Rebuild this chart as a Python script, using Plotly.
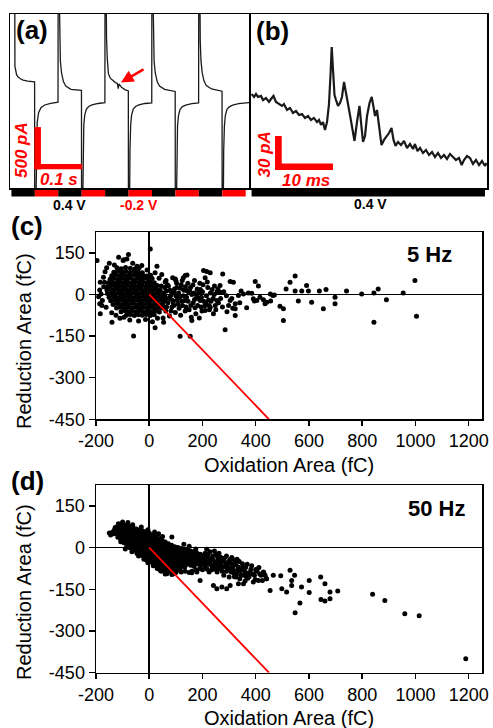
import plotly.graph_objects as go

W, H = 493, 728
FONT = "Liberation Sans, Arial, sans-serif"
RED = "#ff0000"

# ---------------- data ----------------
# (a) current trace, time in ms, current in pA
a_t = [-3, 6.5, 7.5, 9, 11, 14, 19, 25, 35, 49.5,
       50, 51.5, 53, 55, 58, 63, 71, 84, 99.5,
       100, 101.5, 103, 104.5, 107, 111, 116, 127, 149.5,
       150, 151.5, 153, 154.5, 156.5, 160, 165, 172, 185, 199.5,
       200, 201.5, 203, 204.5, 207, 211, 216, 222, 226, 228, 229.5, 235, 242, 249.5,
       250, 251.5, 253, 254.5, 256.5, 260, 265, 272, 285, 299.5,
       300, 301.5, 303, 304.5, 307, 311, 316, 327, 349.5,
       350, 351.5, 353, 354.5, 356.5, 360, 365, 372, 385, 399.5,
       400, 401.5, 403, 404.5, 407, 411, 416, 427, 449.5,
       450, 451.5, 453, 454.5, 456.5, 460, 465, 472, 485, 507]
a_i = [3000, 3000, 420, 350, 318, 293, 268, 253, 240, 231,
       -3000, -1500, -560, -260, -140, -80, -48, -28, -15,
       3000, 1500, 700, 480, 338, 235, 181, 141, 128,
       -3000, -1500, -590, -290, -169, -97, -66, -48, -30, -20,
       3000, 1500, 750, 520, 330, 275, 245, 222, 212, 150, 205, 165, 138, 122,
       -3000, -1500, -590, -290, -169, -97, -66, -48, -30, -22,
       3000, 1500, 700, 480, 338, 235, 181, 141, 115,
       -3000, -1500, -600, -300, -175, -100, -68, -50, -32, -22,
       3000, 1500, 720, 490, 345, 240, 185, 145, 118,
       -3000, -1500, -600, -300, -175, -100, -70, -50, -32, -20]
# (a) applied potential steps
a_step_t = [0, 50, 100, 150, 200, 250, 300, 350, 400, 450, 500]
a_step_v = [0.4, -0.2, 0.4, -0.2, 0.4, -0.2, 0.4, -0.2, 0.4, -0.2]

# (b) zoomed trace, time in ms, current in pA
b_t = [0.09, 0.52, 0.86, 1.21, 1.72, 2.07, 2.59, 3.10, 3.45, 3.88,
       4.31, 4.83, 5.35, 5.69, 6.21, 6.73, 7.24, 7.76, 8.28, 8.80,
       9.31, 9.83, 10.35, 10.86, 11.38, 11.73, 12.07, 12.42, 12.76, 13.11,
       13.45, 13.71, 13.92, 14.14, 14.40, 14.66, 15.00, 15.35, 15.69, 16.04,
       16.38, 16.73, 17.07, 17.42, 17.85, 18.28, 18.71, 18.97, 19.32, 19.66,
       20.01, 20.44, 20.82, 21.13, 21.39, 21.73, 22.08, 22.51, 22.94, 23.37,
       23.80, 24.23, 24.58, 24.92, 25.35, 25.87, 26.39, 26.91, 27.42, 27.94,
       28.28, 28.71, 29.15, 29.66, 30.18, 30.70, 31.22, 31.73, 32.25, 32.77,
       33.28, 33.80, 34.32, 34.84, 35.35, 35.87, 36.33, 36.73, 37.25, 37.77,
       38.28, 38.80, 39.32, 39.84, 40.35, 40.61]
b_i = [82.9, 80.3, 82.9, 80.3, 81.2, 77.6, 79.4, 75.9, 78.5, 81.2,
       75.9, 74.1, 72.4, 74.1, 68.8, 70.6, 66.2, 67.9, 64.4, 65.3,
       61.8, 63.5, 60.0, 61.8, 58.2, 60.0, 55.6, 58.2, 51.2, 58.2,
       74.1, 99.7, 124.4, 104.8, 82.1, 77.6, 72.4, 75.0, 80.3, 93.5,
       82.1, 74.1, 64.4, 52.9, 41.5, 58.2, 72.4, 58.2, 40.6, 45.9,
       63.5, 75.0, 80.3, 71.5, 63.5, 68.8, 55.6, 37.9, 42.4, 45.0,
       48.5, 52.9, 42.4, 37.1, 40.6, 37.9, 41.5, 35.3, 38.8, 34.4,
       38.8, 32.6, 35.3, 30.9, 33.5, 29.1, 31.8, 27.4, 30.9, 26.5,
       29.1, 25.6, 30.0, 27.4, 24.7, 26.5, 20.3, 24.7, 28.2, 26.5,
       21.2, 24.7, 20.3, 23.8, 19.4, 22.1]
b_step_t = [0.1, 40.35]
b_step_v = [0.4]

# (c) 5 Hz: (oxidation area fC, reduction area fC)
c_points = [
    (-121, 96), (-105, 93), (-89, 97), (-71, 94), (-54, 92), (-38, 96),
    (-133, 80), (-118, 84), (-102, 81), (-87, 83), (-72, 79), (-56, 84), (-41, 81), (-26, 78),
    (-141, 67), (-127, 71), (-112, 68), (-98, 70), (-83, 66), (-69, 69), (-54, 71), (-39, 67), (-24, 70), (-9, 66), (5, 69),
    (-147, 55), (-132, 58), (-118, 54), (-104, 57), (-89, 55), (-75, 58), (-61, 54), (-46, 57), (-32, 55), (-17, 58), (-3, 54), (11, 57),
    (-153, 42), (-139, 45), (-125, 41), (-110, 44), (-96, 42), (-82, 45), (-67, 41), (-53, 44), (-39, 42), (-24, 45), (-10, 41), (4, 44), (19, 42),
    (-156, 29), (-141, 32), (-127, 28), (-113, 31), (-99, 29), (-84, 32), (-70, 28), (-56, 31), (-41, 29), (-27, 32), (-13, 28), (2, 31), (16, 29), (30, 32),
    (-159, 16), (-145, 19), (-131, 15), (-116, 18), (-102, 16), (-88, 19), (-73, 15), (-59, 18), (-45, 16), (-30, 19), (-16, 15), (-2, 18), (13, 16), (27, 19), (41, 15),
    (-157, 3), (-142, 6), (-128, 2), (-114, 5), (-99, 3), (-85, 6), (-71, 2), (-56, 5), (-42, 3), (-28, 6), (-13, 2), (1, 5), (15, 3), (30, 6), (44, 2),
    (-151, -10), (-137, -7), (-123, -11), (-108, -8), (-94, -10), (-80, -7), (-65, -11), (-51, -8), (-37, -10), (-22, -7), (-8, -11), (6, -8), (21, -10), (35, -7), (49, -11),
    (-145, -23), (-130, -20), (-116, -24), (-102, -21), (-87, -23), (-73, -20), (-59, -24), (-44, -21), (-30, -23), (-16, -20), (-1, -24), (13, -21), (27, -23), (42, -20), (56, -24),
    (-136, -36), (-121, -33), (-107, -37), (-93, -34), (-78, -36), (-64, -33), (-50, -37), (-35, -34), (-21, -36), (-7, -33), (8, -37), (22, -34), (36, -36), (51, -33),
    (-123, -49), (-109, -46), (-94, -50), (-80, -47), (-66, -49), (-51, -46), (-37, -50), (-23, -47), (-8, -49), (6, -46), (20, -50), (35, -47), (49, -49),
    (-106, -62), (-91, -59), (-77, -63), (-63, -60), (-48, -62), (-34, -59), (-20, -63), (-5, -60), (9, -62), (23, -59), (38, -63),
    (-86, -75), (-71, -72), (-56, -76), (-41, -73), (-26, -75), (-11, -72), (4, -76), (19, -73),
    (-172, 62), (-176, -22), (-166, 82), (-150, 112), (-98, 122), (-62, 112), (-28, 104), (-8, 88), (22, 78), (37, 58),
    (-171, 28), (-162, -46), (-141, -66), (-110, -86), (-73, -92), (-40, -96), (-14, -90), (12, -98), (31, -86), (47, 72),
    (-181, 2), (-186, 16), (-190, -8), (-131, 106), (-84, 128), (-46, 102), (-168, 44), (-178, -40), (-160, 96), (-125, -75),
    (-95, -82), (60, -8), (63, 50),
    (60, 45), (72, 30), (65, 12), (80, -5), (70, -30), (85, -45), (62, -60), (95, 20), (100, 50), (105, -20),
    (110, 5), (98, -65), (120, 35), (125, -40), (130, 15), (118, -75), (140, -10), (145, 40), (150, -55), (155, 25),
    (160, 0), (165, -30), (170, 50), (175, -70), (180, 20), (185, -15), (190, 40), (195, -45), (200, 10), (205, -25),
    (210, 60), (215, -5), (220, 25), (225, -40), (230, 5), (240, -15), (245, 30), (250, -55), (255, 10), (260, -30),
    (112, -50), (135, -60), (158, -82), (88, 60), (76, -78), (128, 60), (172, -48), (188, -85), (142, 70), (198, -60),
    (52, -85), (58, 25), (90, -30), (103, 40), (132, -22), (148, 8), (164, 34), (178, -5), (192, 18), (208, -42),
    (223, -20), (236, 18), (117, 22), (84, 8),
    (45, 30), (50, -40), (55, 5), (58, -20), (65, -45), (68, 35), (75, -15), (78, 15), (82, -60), (88, -22),
    (92, -40), (94, 5), (100, -5), (104, 25), (108, -35), (114, -10), (122, -25), (124, 50), (128, -5), (136, 28),
    (138, -45), (146, -25), (152, 12), (156, -40), (168, 5), (170, -18), (182, -40), (186, 5), (196, -10), (202, 35),
    (212, -30), (218, 45), (226, -55), (232, -25), (244, 0), (248, -40), (258, 20), (268, -15), (275, -45), (280, 10),
    (290, -5), (292, -62), (310, -15), (314, -50), (340, -30), (345, 12),
    (-196, 122), (-184, 44), (-186, -34), (-184, -70), (-140, -100), (-59, -150), (-115, 134), (-78, 144), (-96, 125), (4, 164),
    (29, 102), (22, -120), (54, -100), (116, -151), (154, -151), (285, -127), (204, 86), (216, 83), (229, 78), (276, 74),
    (316, 44), (304, 47), (398, 47), (410, 30), (548, 66), (529, 44), (591, 32), (514, 20), (548, 12), (573, 12),
    (598, 12), (639, 12), (664, 18), (741, 12), (798, 2), (844, 5), (860, 20), (954, 5), (998, 50), (891, -19),
    (844, -100), (1004, -79), (698, -10), (698, -34), (654, -52), (610, -28), (560, -24), (504, -94), (504, -52), (491, -43),
    (464, -4), (441, -28), (429, -19), (404, -22), (391, -16), (354, 2), (366, -48), (323, -34), (323, -52), (323, -76),
    (304, -22), (298, -40), (266, 8), (266, 32), (254, -22), (241, -70), (210, -58), (229, -46), (191, -22), (179, 2),
    (160, -94), (141, 14), (135, 68), (98, 56), (395, -24), (416, -10), (435, -34), (456, -24), (335, -4), (372, 5),
    (385, 4), (455, 2), (470, -2),
]

# (d) 50 Hz: (oxidation area fC, reduction area fC)
d_points = [
    (-132, 62), (-134, 50), (-138, 55),
    (-120, 76), (-119, 63), (-121, 50), (-118, 37),
    (-108, 84), (-107, 71), (-109, 58), (-106, 45), (-108, 32), (-107, 21),
    (-96, 82), (-95, 69), (-97, 56), (-94, 43), (-96, 30), (-95, 17),
    (-84, 79), (-83, 66), (-85, 53), (-82, 40), (-84, 27), (-83, 14), (-85, 3),
    (-72, 76), (-71, 63), (-73, 50), (-70, 37), (-72, 24), (-71, 11), (-73, -1),
    (-60, 71), (-59, 58), (-61, 45), (-58, 32), (-60, 19), (-59, 6), (-61, -7),
    (-48, 67), (-47, 54), (-49, 41), (-46, 28), (-48, 15), (-47, 2), (-49, -11), (-46, -21),
    (-36, 63), (-35, 50), (-37, 37), (-34, 24), (-36, 11), (-35, -2), (-37, -15), (-34, -27),
    (-24, 60), (-23, 47), (-25, 34), (-22, 21), (-24, 8), (-23, -5), (-25, -18), (-22, -31),
    (-12, 57), (-11, 44), (-13, 31), (-10, 18), (-12, 5), (-11, -8), (-13, -21), (-10, -34), (-12, -43),
    (0, 52), (1, 39), (-1, 26), (2, 13), (0, 0), (1, -13), (-1, -26), (2, -39), (0, -47),
    (12, 46), (13, 33), (11, 20), (14, 7), (12, -6), (13, -19), (11, -32), (14, -45), (12, -55),
    (24, 40), (25, 27), (23, 14), (26, 1), (24, -12), (25, -25), (23, -38), (26, -51), (24, -62),
    (36, 33), (37, 20), (35, 7), (38, -6), (36, -19), (37, -32), (35, -45), (38, -58), (36, -70),
    (48, 26), (49, 13), (47, 0), (50, -13), (48, -26), (49, -39), (47, -52), (50, -65), (48, -76),
    (60, 20), (61, 7), (59, -6), (62, -19), (60, -32), (61, -45), (59, -58), (62, -71), (60, -82),
    (72, 14), (73, 1), (71, -12), (74, -25), (72, -38), (73, -51), (71, -64), (74, -77), (72, -88),
    (84, 8), (85, -5), (83, -18), (86, -31), (84, -44), (85, -57), (83, -70), (86, -83),
    (96, 3), (97, -10), (95, -23), (98, -36), (96, -49), (97, -62), (95, -75),
    (108, 0), (109, -13), (107, -26), (110, -39), (108, -52), (109, -65), (107, -78),
    (120, -3), (121, -16), (119, -29), (122, -42), (120, -55), (121, -68),
    (132, -6), (133, -19), (131, -32), (134, -45), (132, -58), (133, -71),
    (144, -8), (145, -21), (143, -34), (146, -47), (144, -60),
    (156, -12), (157, -25), (155, -38), (158, -51), (156, -64),
    (168, -15), (169, -28), (167, -41), (170, -54), (168, -67),
    (180, -20), (181, -33), (179, -46), (182, -59),
    (192, -24), (193, -37), (191, -50), (194, -63),
    (204, -28), (205, -41), (203, -54),
    (-128, 72), (-116, 86), (-100, 92), (-80, 90), (-62, 82), (-30, 74), (-5, 64), (20, 56), (35, 50), (50, 40),
    (85, 38), (-90, -5), (-65, -15), (-40, -30), (-20, -42), (-5, -55), (15, -65), (30, -75), (45, -85), (66, -94),
    (41, -82), (91, -94), (116, -82), (160, -91), (179, -88), (191, -118), (216, -6), (130, 12), (150, 5), (175, -5),
    (-9, -46), (-150, 52), (-145, 45),
    (215, -35), (222, -60), (230, -48), (238, -30), (245, -66), (252, -52), (258, -40), (265, -75), (270, -58), (278, -45),
    (285, -68), (290, -85), (298, -52), (305, -75), (312, -40), (318, -92), (325, -62), (332, -80), (338, -50), (345, -100),
    (352, -70), (360, -88), (368, -60), (375, -105), (382, -78), (390, -95), (398, -115), (405, -85), (412, -72), (420, -100),
    (430, -90), (440, -112), (255, -88), (235, -80), (218, -78), (210, -70), (200, -80), (280, -100), (300, -106), (262, -20),
    (245, -12), (228, -15), (290, -30), (320, -105), (340, -112), (360, -120), (372, -92), (350, -58), (330, -42), (310, -58),
    (287, -55), (268, -35), (250, -25), (225, -88), (190, -75), (175, -80), (160, -85), (150, -90), (135, -85), (120, -88),
    (100, -90), (85, -97), (60, -95),
    (212, -48), (220, -25), (226, -40), (232, -62), (240, -45), (248, -58), (256, -30), (262, -65), (272, -48), (276, -70),
    (282, -38), (294, -62), (302, -45), (308, -88), (316, -65), (322, -50), (328, -95), (335, -70), (342, -85), (348, -78),
    (356, -100), (362, -72), (370, -110), (378, -90), (385, -65), (395, -100), (400, -80), (415, -95), (425, -118), (435, -100),
    (210, -20), (236, -68), (250, -78), (266, -50), (274, -85), (296, -75), (214, -58),
    (839, -168), (885, -190), (960, -238), (1014, -245), (1189, -400), (548, -234), (566, -199), (644, -106), (660, -130), (679, -160),
    (679, -184), (645, -187), (660, -192), (708, -156), (601, -118), (601, -162), (572, -142), (535, -118), (529, -82), (546, -100),
    (535, -136), (494, -101), (516, -160), (498, -148), (466, -100), (454, -154), (429, -88), (404, -78), (410, -118), (441, -112),
    (391, -124), (366, -106), (354, -130), (326, -106), (316, -82), (335, -130), (310, -36), (304, -136), (273, -142), (291, -148),
    (241, -136), (254, -148),
]

# unity reference line (oxidation = -reduction)
ref_x = [0, 450]
ref_y = [0, -450]

x_ticks = [-200, 0, 200, 400, 600, 800, 1000, 1200]
y_ticks = [-450, -300, -150, 0, 150]


# ---------------- figure ----------------
def X(p):
    return p / W


def Y(p):
    return 1 - p / H


fig = go.Figure()

fig.add_trace(go.Scatter(x=a_t, y=a_i, mode="lines", line=dict(color="#1a1a1a", width=1.3),
                         xaxis="x", yaxis="y", hoverinfo="skip", showlegend=False))
fig.add_trace(go.Scatter(x=b_t, y=b_i, mode="lines", line=dict(color="#1a1a1a", width=2.2),
                         xaxis="x2", yaxis="y2", hoverinfo="skip", showlegend=False))

cx = [p[0] for p in c_points]
cy = [p[1] for p in c_points]
dx = [p[0] for p in d_points]
dy = [p[1] for p in d_points]
fig.add_trace(go.Scatter(x=cx, y=cy, mode="markers", marker=dict(size=5, color="black"),
                         xaxis="x3", yaxis="y3", showlegend=False, cliponaxis=True))
fig.add_trace(go.Scatter(x=ref_x, y=ref_y, mode="lines", line=dict(color=RED, width=1.8),
                         xaxis="x3", yaxis="y3", showlegend=False))
fig.add_trace(go.Scatter(x=dx, y=dy, mode="markers", marker=dict(size=5, color="black"),
                         xaxis="x4", yaxis="y4", showlegend=False, cliponaxis=True))
fig.add_trace(go.Scatter(x=ref_x, y=ref_y, mode="lines", line=dict(color=RED, width=1.8),
                         xaxis="x4", yaxis="y4", showlegend=False))

frame = dict(showline=True, mirror=True, linecolor="black", linewidth=1.5, showgrid=False,
             zeroline=False, showticklabels=False, ticks="", fixedrange=True, automargin=False)

tickfont = dict(family=FONT, size=18, color="black")
sc_x = dict(range=[-200, 1250], tickvals=x_ticks, ticktext=[str(v) for v in x_ticks],
            ticks="outside", ticklen=5, tickwidth=1.5, tickcolor="black", tickfont=tickfont,
            showline=True, mirror=True, linecolor="black", linewidth=1.5, showgrid=False,
            zeroline=True, zerolinecolor="black", zerolinewidth=1.5, automargin=False)
sc_y = dict(range=[-450, 225], tickvals=y_ticks, ticktext=[str(v) for v in y_ticks],
            ticks="outside", ticklen=6, tickwidth=1.5, tickcolor="black", tickfont=tickfont,
            showline=True, mirror=True, linecolor="black", linewidth=1.5, showgrid=False,
            zeroline=True, zerolinecolor="black", zerolinewidth=1.5, automargin=False)

fig.update_layout(
    width=W, height=H, margin=dict(l=0, r=0, t=0, b=0, autoexpand=False),
    paper_bgcolor="white", plot_bgcolor="white",
    font=dict(family=FONT, color="black"),
    showlegend=False,
    xaxis=dict(domain=[X(10), X(249)], range=[-3, 507], anchor="y", **frame),
    yaxis=dict(domain=[Y(188), Y(14)], range=[-1050, 1050], anchor="x", **frame),
    xaxis2=dict(domain=[X(251), X(487)], range=[0, 40.7], anchor="y2", **frame),
    yaxis2=dict(domain=[Y(188), Y(14)], range=[0, 153.5], anchor="x2", **frame),
    xaxis3=dict(domain=[X(96), X(482)], anchor="y3", **sc_x),
    yaxis3=dict(domain=[Y(419.3), Y(232)], anchor="x3", **sc_y),
    xaxis4=dict(domain=[X(96), X(482)], anchor="y4", **sc_x),
    yaxis4=dict(domain=[Y(672.7), Y(485)], anchor="x4", **sc_y),
)

shapes = []
# potential waveform bars
for i, v in enumerate(a_step_v):
    shapes.append(dict(type="rect", xref="x", yref="paper", x0=a_step_t[i], x1=a_step_t[i + 1],
                       y0=Y(196.5), y1=Y(190), fillcolor="black" if v > 0 else RED, line=dict(width=0)))
for i, v in enumerate(b_step_v):
    shapes.append(dict(type="rect", xref="x2", yref="paper", x0=b_step_t[i], x1=b_step_t[i + 1],
                       y0=Y(196.5), y1=Y(190), fillcolor="black" if v > 0 else RED, line=dict(width=0)))
# scale bars (a): 500 pA, 0.1 s
shapes.append(dict(type="rect", xref="x", yref="y", x0=49, x1=63, y0=-825, y1=-315,
                   fillcolor=RED, line=dict(width=0)))
shapes.append(dict(type="rect", xref="x", yref="y", x0=49, x1=151, y0=-825, y1=-760,
                   fillcolor=RED, line=dict(width=0)))
# scale bars (b): 30 pA, 10 ms
shapes.append(dict(type="rect", xref="x2", yref="y2", x0=4.14, x1=5.3, y0=15.9, y1=45.9,
                   fillcolor=RED, line=dict(width=0)))
shapes.append(dict(type="rect", xref="x2", yref="y2", x0=4.14, x1=14.14, y0=15.9, y1=21.6,
                   fillcolor=RED, line=dict(width=0)))
fig.update_layout(shapes=shapes)


def label(text, x, y, size, color="black", bold=False, italic=False, angle=0):
    return dict(text=text, x=X(x), y=Y(y), xref="paper", yref="paper", showarrow=False,
                xanchor="center", yanchor="middle", textangle=angle,
                font=dict(family=FONT, size=size, color=color,
                          weight="bold" if bold else "normal",
                          style="italic" if italic else "normal"))


annotations = [
    label("(a)", 32, 30, 26, bold=True),
    label("(b)", 272, 31, 26, bold=True),
    label("(c)", 27, 226, 26, bold=True),
    label("(d)", 27, 481, 26, bold=True),
    label("500 pA", 22, 150, 17, color=RED, bold=True, italic=True, angle=-90),
    label("0.1 s", 59, 179, 17, color=RED, bold=True, italic=True),
    label("30 pA", 263.5, 155, 17, color=RED, bold=True, italic=True, angle=-90),
    label("10 ms", 306, 180, 17, color=RED, bold=True, italic=True),
    label("0.4 V", 69, 205, 14, bold=True),
    label("-0.2 V", 139, 205, 14, color=RED, bold=True),
    label("0.4 V", 370, 204, 14, bold=True),
    label("5 Hz", 429, 255, 22, bold=True),
    label("50 Hz", 436, 509, 22, bold=True),
    label("Reduction Area (fC)", 24, 341, 20, angle=-90),
    label("Reduction Area (fC)", 24, 592, 20, angle=-90),
    label("Oxidation Area (fC)", 289, 465, 20),
    label("Oxidation Area (fC)", 289, 718, 20),
    dict(text="", x=X(121), y=Y(82.5), xref="paper", yref="paper", showarrow=True,
         ax=24, ay=-14, arrowhead=2, arrowsize=1, arrowwidth=2.5, arrowcolor=RED),
]
fig.update_layout(annotations=annotations)

fig.write_html("out.html", config={"displayModeBar": False, "staticPlot": True},
               post_script="document.body.style.margin='0';document.body.style.padding='0';"
                           "document.documentElement.style.overflow='hidden';")
